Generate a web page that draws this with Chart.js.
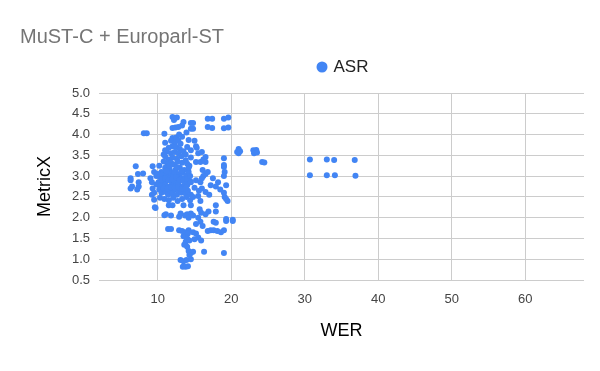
<!DOCTYPE html>
<html>
<head>
<meta charset="utf-8">
<script src="https://cdn.jsdelivr.net/npm/chart.js@4"></script>
<style>
  html, body { margin: 0; padding: 0; background: #ffffff; }
</style>
</head>
<body>
<canvas id="grafica" width="600" height="371"></canvas>
<script>
// Textos y ejes
const tituloGrafica = 'MuST-C + Europarl-ST';
const nombreSerie = 'ASR';
const tituloEjeX = 'WER';
const tituloEjeY = 'MetricX';
const ticksWER = [10, 20, 30, 40, 50, 60];
const ticksMetricX = [0.5, 1.0, 1.5, 2.0, 2.5, 3.0, 3.5, 4.0, 4.5, 5.0];

const werASR = [
  // derecha lejana
  30.7, 30.7, 33.0, 33.0, 34.0, 34.1, 36.8, 36.9,
  // entre 20 y 25
  20.8, 21.0, 21.2, 21.0, 23.0, 23.4, 23.1, 23.5, 24.2, 24.5,
  // fila de arriba
  12.0, 12.3, 12.6, 12.2, 12.0, 12.4, 12.8, 13.5, 13.3, 14.5, 14.8, 14.5, 14.8, 16.8, 17.4, 16.8, 17.4, 19.0, 19.6, 19.0, 19.6,
  // izquierda
  8.1, 8.5, 10.9, 7.0, 9.3, 6.3, 6.3, 6.5, 6.3, 7.3, 7.4, 7.4, 8.0, 7.2, 9.2, 9.3, 9.2, 9.5, 9.0, 9.7, 9.5, 9.6, 9.8, 9.5, 9.8,
  // nube de arriba
  12.0, 12.5, 11.8, 12.3, 12.8, 13.1, 12.0, 12.5, 13.0, 11.5, 11.2, 11.8, 12.3, 12.8, 13.5, 13.8, 14.2, 14.0, 14.5, 13.2,
  12.6, 12.0, 11.5, 11.0, 11.3, 11.8, 12.2, 12.7, 13.3, 13.8, 14.3, 11.0, 11.6, 12.4, 13.0, 13.6, 14.0, 10.8, 11.0, 10.8,
  10.5, 10.2, 11.0, 13.3, 14.5, 13.9, 12.9,
  // a la derecha de la nube de arriba
  15.2, 15.3, 16.5, 19.0, 19.0, 15.2, 15.8, 16.5, 15.5, 16.0, 15.0, 16.2,
  // centro denso
  10.0, 10.3, 10.6, 10.9, 11.2, 11.5, 11.8, 12.1, 12.4, 12.7, 13.0, 13.3, 13.6, 13.9, 14.2,
  10.1, 10.4, 10.7, 11.0, 11.3, 11.6, 11.9, 12.2, 12.5, 12.8, 13.1, 13.4, 13.7, 14.0, 14.4,
  10.2, 10.5, 10.8, 11.1, 11.4, 11.7, 12.0, 12.3, 12.6, 12.9, 13.2, 13.5, 13.8, 14.1, 14.5,
  10.3, 10.9, 11.5, 12.1, 12.7, 13.3, 13.9, 14.4,
  11.5, 12.0, 13.5, 14.5,
  10.9, 11.1, 11.8, 12.9, 13.1, 13.7, 14.0, 14.5, 14.2,
  10.5, 11.0, 11.5, 12.0, 12.5, 13.0, 13.5, 14.0, 10.8, 11.3, 11.8, 12.3, 12.8, 13.3, 13.8, 11.2, 12.2, 13.2, 12.6, 11.6,
  // derecha del centro
  14.2, 14.4, 14.5, 16.1, 16.5, 16.8, 16.2, 19.0, 19.1, 19.0, 17.2, 17.9, 19.3, 19.0, 19.1, 19.3, 19.5, 14.8, 15.5, 15.6,
  15.8, 15.7, 15.9, 16.9, 17.9, 17.9, 19.3, 20.2, 14.8, 15.5, 16.5, 15.0, 16.0, 16.5, 17.0, 18.5, 15.2, 15.8, 16.0, 17.5, 18.2,
  // parte baja
  15.2, 15.8, 16.1, 17.6, 17.9, 19.3, 20.2,
  14.2, 14.8, 15.2, 15.5, 15.9, 15.0, 16.8, 17.2, 17.6, 18.1, 18.6, 19.0,
  11.4, 11.8, 12.9, 13.3, 13.7, 14.1, 13.5, 14.0, 13.8, 14.3, 13.6, 14.0,
  14.2, 14.5, 14.8, 14.3, 16.3, 19.0,
  13.1, 13.5, 13.9, 14.5, 13.4, 13.8, 14.1
];

const metricxASR = [
  // derecha lejana
  3.40, 3.02, 3.40, 3.02, 3.39, 3.02, 3.39, 3.01,
  // entre 20 y 25
  3.58, 3.65, 3.60, 3.55, 3.62, 3.63, 3.55, 3.57, 3.34, 3.33,
  // fila de arriba
  4.42, 4.40, 4.41, 4.35, 4.16, 4.17, 4.18, 4.30, 4.22, 4.28, 4.28, 4.14, 4.14, 4.38, 4.38, 4.18, 4.16, 4.38, 4.41, 4.15, 4.17,
  // izquierda
  4.03, 4.03, 4.02, 3.24, 3.24, 2.95, 2.90, 2.75, 2.70, 3.05, 2.85, 2.75, 3.06, 2.68, 2.85, 2.70, 2.55, 2.60, 2.95, 2.23, 2.43, 2.25, 3.00, 3.10, 2.80,
  // nube de arriba
  3.92, 3.93, 3.85, 3.80, 3.85, 3.78, 3.72, 3.70, 3.65, 3.68, 3.60, 3.55, 3.58, 3.55, 3.60, 3.52, 3.87, 3.70, 3.45, 3.48,
  3.42, 3.45, 3.40, 3.48, 3.30, 3.32, 3.28, 3.35, 3.32, 3.38, 3.25, 3.20, 3.18, 3.15, 3.20, 3.15, 3.30, 3.35, 3.62, 3.52,
  3.10, 3.25, 3.80, 3.95, 3.62, 4.05, 4.00,
  // a la derecha de la nube de arriba
  3.72, 3.68, 3.46, 3.43, 3.27, 3.34, 3.34, 3.34, 3.55, 3.58, 3.85, 3.40,
  // centro denso
  3.05, 2.98, 3.02, 2.95, 3.05, 2.98, 3.08, 3.00, 2.95, 3.05, 2.98, 3.08, 2.95, 3.02, 3.10,
  2.85, 2.78, 2.88, 2.80, 2.90, 2.75, 2.85, 2.78, 2.88, 2.80, 2.90, 2.75, 2.85, 2.78, 2.88,
  2.68, 2.60, 2.70, 2.62, 2.55, 2.65, 2.58, 2.68, 2.55, 2.65, 2.60, 2.70, 2.58, 2.65, 2.55,
  2.48, 2.45, 2.42, 2.48, 2.40, 2.45, 2.50, 2.42,
  2.30, 2.30, 2.30, 2.30,
  2.06, 2.08, 2.05, 2.02, 2.10, 2.05, 2.08, 2.10, 2.00,
  2.92, 2.94, 2.90, 2.93, 2.97, 2.91, 2.88, 2.93, 2.72, 2.70, 2.73, 2.71, 2.74, 2.69, 2.72, 3.12, 3.10, 3.12, 3.22, 3.25,
  // derecha del centro
  3.20, 3.00, 2.85, 3.15, 3.05, 3.10, 3.00, 3.22, 3.10, 3.00, 2.78, 2.75, 2.78, 2.60, 2.50, 2.45, 2.40, 2.50, 2.52, 2.65,
  2.40, 2.20, 2.12, 2.15, 2.15, 2.30, 1.97, 1.95, 2.05, 2.00, 2.08, 2.72, 2.70, 2.62, 2.55, 2.68, 2.90, 2.85, 2.95, 2.95, 2.85,
  // parte baja
  1.85, 1.90, 1.80, 1.90, 1.88, 1.92, 1.92,
  1.70, 1.65, 1.62, 1.52, 1.45, 1.48, 1.68, 1.70, 1.70, 1.68, 1.65, 1.70,
  1.73, 1.73, 1.70, 1.68, 1.65, 1.62, 1.55, 1.50, 1.42, 1.45, 1.35, 1.30,
  1.20, 1.15, 1.18, 1.10, 1.18, 1.15,
  0.98, 0.95, 0.98, 1.00, 0.82, 0.82, 0.83
];

const colorASR = '#4285f4';
const fuente = '"Liberation Sans", Arial, sans-serif';
Chart.defaults.font.family = fuente;

const puntos = werASR.map((w, i) => ({ x: w, y: metricxASR[i] }));

// Titulo arriba a la izquierda y leyenda centrada sobre el area del grafico
const cabecera = {
  id: 'cabecera',
  afterDraw(chart) {
    const ctx = chart.ctx;
    const area = chart.chartArea;
    ctx.save();
    ctx.textBaseline = 'middle';
    ctx.font = '20px ' + fuente;
    ctx.fillStyle = '#757575';
    ctx.fillText(tituloGrafica, 20, 37);

    ctx.font = '17px ' + fuente;
    const anchoTexto = ctx.measureText(nombreSerie).width;
    const inicio = (area.left + area.right) / 2 - (anchoTexto + 17) / 2 + 1;
    ctx.fillStyle = colorASR;
    ctx.beginPath();
    ctx.arc(inicio + 5.5, 67, 5.5, 0, Math.PI * 2);
    ctx.fill();
    ctx.fillStyle = '#222222';
    ctx.fillText(nombreSerie, inicio + 17, 67);
    ctx.restore();
  }
};

new Chart(document.getElementById('grafica'), {
  type: 'scatter',
  data: {
    datasets: [{
      label: nombreSerie,
      data: puntos,
      backgroundColor: colorASR,
      borderWidth: 0,
      pointRadius: 3,
      pointHoverRadius: 3
    }]
  },
  options: {
    responsive: false,
    animation: false,
    layout: { padding: { top: 93, right: 16, bottom: 0, left: 0 } },
    plugins: {
      legend: { display: false },
      title: { display: false },
      tooltip: { enabled: false }
    },
    scales: {
      x: {
        type: 'linear',
        min: 2,
        max: 68,
        afterBuildTicks: (eje) => { eje.ticks = ticksWER.map(v => ({ value: v })); },
        afterFit: (eje) => { eje.height = 91; },
        grid: { color: '#cccccc', drawTicks: false },
        border: { display: false },
        ticks: { padding: 12, color: '#444444', font: { size: 13 } },
        title: { display: true, text: tituloEjeX, color: '#000000', font: { size: 18 }, padding: { top: 0, bottom: 29 } }
      },
      y: {
        type: 'linear',
        min: 0.5,
        max: 5.0,
        afterBuildTicks: (eje) => { eje.ticks = ticksMetricX.map(v => ({ value: v })); },
        afterFit: (eje) => { eje.width = 99; },
        grid: { color: '#cccccc', drawTicks: false },
        border: { display: false },
        ticks: { padding: 9, color: '#444444', font: { size: 13 }, callback: (v) => Number(v).toFixed(1) },
        title: { display: true, text: tituloEjeY, color: '#000000', font: { size: 18 }, padding: { top: 34, bottom: 0 } }
      }
    }
  },
  plugins: [cabecera]
});
</script>
</body>
</html>
